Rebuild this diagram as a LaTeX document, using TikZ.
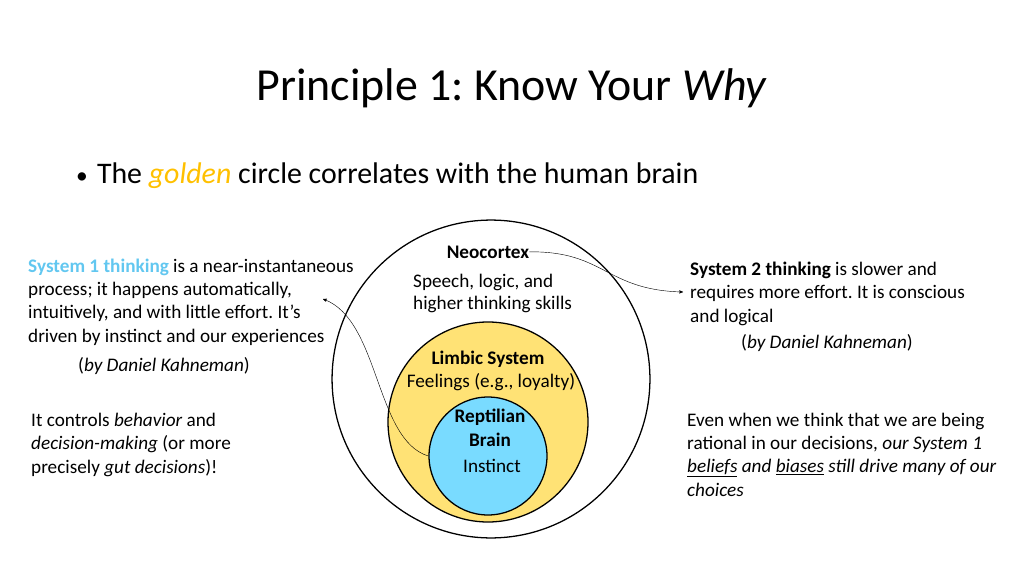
\documentclass[tikz,border=0pt]{standalone}
\usepackage{fontspec}
\setmainfont{Carlito}
\usepackage{xcolor}
\usepackage{tikz}
\usetikzlibrary{arrows}
\frenchspacing
\definecolor{limbic_fill}{RGB}{255,226,117}
\definecolor{reptile_fill}{RGB}{121,219,255}
\definecolor{sysone_blue}{RGB}{98,199,240}
\definecolor{golden}{RGB}{255,192,0}
\tikzset{
    tnode/.style = {align=left, inner sep=0pt, anchor=base west, font=\fontsize{18}{21.6}\selectfont},
    cnode/.style = {align=center, inner sep=0pt, anchor=base, font=\fontsize{18}{21.6}\selectfont},
    bnode/.style = {cnode, font=\fontsize{18}{21.6}\selectfont\bfseries},
    ring/.style = {circle, draw=black, inner sep=0pt, line width=1.2pt}
}

\begin{document}
\begin{tikzpicture}
    [-,>=stealth', x=0.9375pt, y=-0.9375pt]

    \useasboundingbox (0,0) rectangle (1024,576);

    % (multi-line nodes sit on the baseline of their last line)
    \node [cnode, font=\fontsize{43}{48}\selectfont] (title) at (512,101)
        {Principle 1: Know Your \textit{Why}};
    \node [tnode, font=\fontsize{28}{32}\selectfont] (bullet) at (76,183)
        {\makebox[19.5pt][l]{\fontsize{22}{22}\selectfont\textbullet}The \textcolor{golden}{\textit{golden}} circle correlates with the human brain};

    % the three brains
    \node [ring, minimum size=298pt] (neo_ring) at (491,379) {};
    \node [ring, fill=limbic_fill, minimum size=187.5pt] (limbic_ring) at (488,422) {};
    \node [ring, fill=reptile_fill, minimum size=110.6pt] (reptile_ring) at (488,456) {};

    \node [bnode] (neo) at (488,258) {Neocortex};
    \node [tnode, font=\fontsize{18}{20.6}\selectfont] (neo_txt) at (413,309) {Speech, logic, and\\higher thinking skills};
    \node [bnode] (limbic) at (488,364) {Limbic System};
    \node [cnode] (limbic_txt) at (491,387) {Feelings (e.g., loyalty)};
    \node [bnode] (reptile) at (490,446) {Reptilian\\Brain};
    \node [cnode] (reptile_txt) at (492,472) {Instinct};

    % side texts
    \node [tnode] (sys1) at (28,342)
        {\textcolor{sysone_blue}{\textbf{System 1 thinking}} is a near-instantaneous\\process; it happens automatically,\\intuitively, and with little effort. It’s\\driven by instinct and our experiences};
    \node [tnode] (sys1_by) at (78,371) {(\textit{by Daniel Kahneman})};
    \node [tnode] (sys2) at (690,322)
        {\textbf{System 2 thinking} is slower and\\requires more effort. It is conscious\\and logical};
    \node [tnode] (sys2_by) at (741,348) {(\textit{by Daniel Kahneman})};
    \node [tnode] (controls) at (31,473)
        {It controls \textit{behavior} and\\\textit{decision-making} (or more\\precisely \textit{gut decisions})!};
    \node [tnode] (even) at (687,496)
        {Even when we think that we are being\\rational in our decisions, \textit{our System 1}\\\textit{\underline{beliefs} and \underline{biases} still drive many of our}\\\textit{choices}};

    \coordinate (sys1_tip) at (323,299);
    \coordinate (sys2_tip) at (683,292);
    \draw [->, thin] (neo.east) .. controls (605,251) and (605,290) .. (sys2_tip);
    \draw [->, thin] (reptile_ring.west) .. controls (375,440) and (380,320) .. (sys1_tip);
\end{tikzpicture}
\end{document}
